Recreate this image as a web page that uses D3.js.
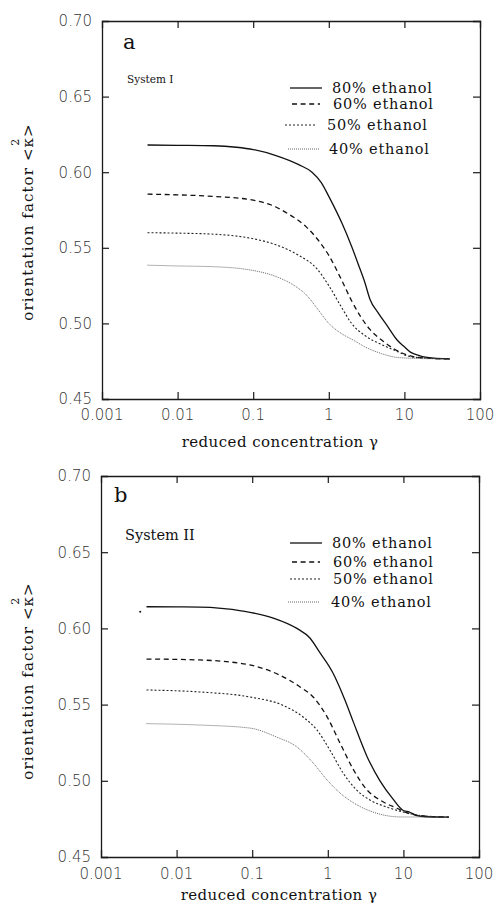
<!DOCTYPE html>
<html><head><meta charset="utf-8">
<script src="https://cdn.jsdelivr.net/npm/d3@7"></script>
<style>body{margin:0;background:#fff}</style>
</head><body>
<svg id="chart" width="494" height="905"></svg>
<script>
// ---------------- DATA ----------------
const xTicks = [0.001, 0.01, 0.1, 1, 10, 100];
const xTickLabels = ["0.001", "0.01", "0.1", "1", "10", "100"];
const yTicks = [0.45, 0.50, 0.55, 0.60, 0.65, 0.70];
const yTickLabels = ["0.45", "0.50", "0.55", "0.60", "0.65", "0.70"];
const seriesNames = ["80% ethanol", "60% ethanol", "50% ethanol", "40% ethanol"];
const panelLetters = ["a", "b"];
const systemNames = ["System I", "System II"];
const xTitle = "reduced concentration \u03b3";
const yTitle = "orientation factor <\u03ba>";

// System I : [reduced concentration, <kappa^2>]
const sysI_80 = [[0.004,0.618],[0.01,0.6178],[0.03,0.6175],[0.06,0.6165],[0.1,0.615],[0.2,0.611],[0.4,0.605],[0.6,0.600],[0.8,0.593],[1.0,0.584],[1.5,0.566],[2.0,0.551],[2.5,0.538],[3.0,0.527],[3.5,0.516],[4.5,0.507],[6,0.498],[8,0.489],[10,0.4845],[12,0.481],[15,0.479],[20,0.4775],[40,0.4765]];
const sysI_60 = [[0.004,0.5855],[0.01,0.585],[0.03,0.584],[0.1,0.5815],[0.2,0.577],[0.3,0.572],[0.5,0.564],[0.7,0.556],[1.0,0.545],[1.5,0.528],[2.0,0.515],[2.6,0.505],[3.5,0.496],[5,0.489],[8,0.482],[12,0.4785],[20,0.477],[40,0.4765]];
const sysI_50 = [[0.004,0.560],[0.01,0.5597],[0.03,0.559],[0.1,0.556],[0.2,0.552],[0.4,0.545],[0.7,0.536],[1.0,0.525],[1.5,0.510],[2.0,0.500],[3.0,0.492],[5,0.486],[8,0.4815],[12,0.478],[20,0.477],[40,0.4765]];
const sysI_40 = [[0.004,0.5385],[0.01,0.538],[0.03,0.5375],[0.1,0.535],[0.2,0.531],[0.35,0.525],[0.5,0.519],[0.7,0.510],[1.0,0.500],[1.5,0.493],[2.1,0.489],[3.0,0.4845],[5,0.480],[8,0.4775],[15,0.4768],[40,0.4765]];

// System II
const sysII_80 = [[0.004,0.6142],[0.01,0.6141],[0.02,0.614],[0.075,0.6114],[0.19,0.6068],[0.39,0.600],[0.58,0.5937],[0.79,0.5839],[1.17,0.5707],[1.7,0.5525],[2.2,0.538],[3.3,0.516],[4.9,0.500],[7.3,0.488],[10,0.4805],[12,0.4795],[15,0.4772],[20,0.4764],[40,0.4762]];
const sysII_80_point = [[0.0033,0.611]];
const sysII_60 = [[0.004,0.5799],[0.02,0.5793],[0.093,0.576],[0.23,0.5694],[0.43,0.5616],[0.64,0.555],[0.98,0.5419],[1.45,0.5248],[2.2,0.507],[3.3,0.494],[4.9,0.4874],[8.2,0.482],[12,0.4785],[20,0.4768],[40,0.4762]];
const sysII_50 = [[0.004,0.5596],[0.02,0.5583],[0.093,0.555],[0.25,0.5497],[0.47,0.5419],[0.72,0.5333],[1.07,0.520],[1.6,0.505],[2.4,0.494],[3.6,0.4874],[6.0,0.4828],[11,0.479],[20,0.4768],[40,0.4762]];
const sysII_40 = [[0.004,0.5375],[0.02,0.5366],[0.093,0.5346],[0.21,0.5287],[0.39,0.5222],[0.64,0.5117],[0.98,0.5005],[1.45,0.492],[2.2,0.4855],[3.9,0.4796],[9.1,0.4763],[40,0.4762]];

// ---------------- LAYOUT / STYLE ----------------
const styles = [
  {dash: null, width: 1.3, color: "#111"},
  {dash: "5,3.6", width: 1.3, color: "#111"},
  {dash: "2,2", width: 1.1, color: "#222"},
  {dash: "1,1", width: 0.9, color: "#555"}
];
const panels = [
  {left:102, right:480, top:21, bottom:399,
   series:[sysI_80, sysI_60, sysI_50, sysI_40], points: [],
   letter:{x:123, y:49, size:21}, sys:{x:127, y:83, size:10.5},
   legendY:[88, 104, 125, 149], legendText:[92.5, 109, 130, 154],
   legendLineX:[[290,322],[292,320],[285,317],[288,320]], legendTextX:[332,333,327,329],
   xLabelDy:21, xTitleY:447, xTitleX:280,
   yTitle:{cx:33, cy:222}},
  {left:101, right:479, top:476, bottom:857,
   series:[sysII_80, sysII_60, sysII_50, sysII_40], points: sysII_80_point,
   letter:{x:114, y:502, size:21}, sys:{x:125, y:540, size:14.5},
   legendY:[543, 562, 579, 602], legendText:[548, 567, 584, 607],
   legendLineX:[[290,322],[292,320],[290,320],[288,320]], legendTextX:[332,333,333,331],
   xLabelDy:22, xTitleY:900, xTitleX:279,
   yTitle:{cx:33, cy:681}}
];

const svg = d3.select("#chart");
const serif = "'DejaVu Serif', serif";
const sans = "'DejaVu Sans', sans-serif";
const frameColor = "#1a1a1a";

panels.forEach((p, pi) => {
  const x = d3.scaleLog().domain([0.001, 100]).range([p.left, p.right]);
  const y = d3.scaleLinear().domain([0.45, 0.70]).range([p.bottom, p.top]);
  const g = svg.append("g");
  const tl = 7;

  // axes (ticks inward on all four sides)
  const axB = d3.axisBottom(x).tickValues(xTicks).tickSize(-tl).tickFormat("");
  const axT = d3.axisTop(x).tickValues(xTicks.slice(1, -1)).tickSize(-tl).tickFormat("");
  const axL = d3.axisLeft(y).tickValues(yTicks.slice(1, -1)).tickSize(-tl).tickFormat("");
  const axR = d3.axisRight(y).tickValues(yTicks.slice(1, -1)).tickSize(-tl).tickFormat("");
  [[axB, `translate(0,${p.bottom})`], [axT, `translate(0,${p.top})`],
   [axL, `translate(${p.left},0)`], [axR, `translate(${p.right},0)`]].forEach(([ax, tr]) => {
    const a = g.append("g").attr("transform", tr).call(ax);
    a.select(".domain").attr("stroke", frameColor).attr("stroke-width", 1.3);
    a.selectAll(".tick line").attr("stroke", frameColor).attr("stroke-width", 1.2);
  });
  g.selectAll(".tick").filter(d => d === 0.001 || d === 100).select("line").remove();

  // tick labels
  g.selectAll(".ylab").data(yTicks).enter().append("text")
    .attr("x", p.left - 10).attr("y", d => y(d)).attr("dy", "0.36em")
    .attr("text-anchor", "end").attr("font-family", sans).attr("font-size", 15)
    .attr("font-weight", 300).attr("fill", "#333")
    .text((d, i) => yTickLabels[i]);
  g.selectAll(".xlab").data(xTicks).enter().append("text")
    .attr("x", d => x(d)).attr("y", p.bottom + p.xLabelDy)
    .attr("text-anchor", "middle").attr("font-family", sans).attr("font-size", 15)
    .attr("font-weight", 300).attr("fill", "#333")
    .text((d, i) => xTickLabels[i]);

  // x title
  g.append("text").attr("x", p.xTitleX).attr("y", p.xTitleY)
    .attr("text-anchor", "middle").attr("font-family", serif).attr("font-size", 15)
    .attr("letter-spacing", 0.45).attr("fill", "#111").text(xTitle);

  // y title (rotated) with superscript 2 placed over kappa
  const yt = g.append("g").attr("transform", `translate(${p.yTitle.cx},${p.yTitle.cy}) rotate(-90)`);
  const t = yt.append("text").attr("x", 0).attr("y", 0).attr("text-anchor", "middle")
    .attr("font-family", serif).attr("font-size", 15).attr("letter-spacing", 1.1)
    .attr("fill", "#111").text(yTitle);
  const node = t.node();
  const L = node.getComputedTextLength();
  const ki = yTitle.indexOf("\u03ba");
  const pre = node.getSubStringLength(0, ki);
  const kw = node.getSubStringLength(ki, 1);
  yt.append("text").attr("x", -L / 2 + pre + kw / 2).attr("y", -14.5)
    .attr("text-anchor", "middle").attr("font-family", serif).attr("font-size", 11)
    .attr("fill", "#111").text("2");

  // panel letter and system label
  g.append("text").attr("x", p.letter.x).attr("y", p.letter.y)
    .attr("font-family", serif).attr("font-size", p.letter.size).attr("fill", "#111")
    .text(panelLetters[pi]);
  g.append("text").attr("x", p.sys.x).attr("y", p.sys.y)
    .attr("font-family", serif).attr("font-size", p.sys.size).attr("fill", "#111")
    .text(systemNames[pi]);

  // curves
  const line = d3.line().x(d => x(d[0])).y(d => y(d[1])).curve(d3.curveMonotoneX);
  p.series.forEach((s, si) => {
    const st = styles[si];
    g.append("path").datum(s).attr("d", line).attr("fill", "none")
      .attr("stroke", st.color).attr("stroke-width", st.width)
      .attr("stroke-dasharray", st.dash);
  });
  g.selectAll(".pt").data(p.points).enter().append("circle")
    .attr("cx", d => x(d[0])).attr("cy", d => y(d[1])).attr("r", 1).attr("fill", "#111");

  // legend
  seriesNames.forEach((name, si) => {
    const st = styles[si];
    const lx = p.legendLineX[si];
    g.append("line").attr("x1", lx[0]).attr("x2", lx[1])
      .attr("y1", p.legendY[si]).attr("y2", p.legendY[si])
      .attr("stroke", st.color).attr("stroke-width", st.width)
      .attr("stroke-dasharray", st.dash);
    g.append("text").attr("x", p.legendTextX[si]).attr("y", p.legendText[si])
      .attr("font-family", serif).attr("font-size", 14.5).attr("letter-spacing", 0.8)
      .attr("fill", "#111").text(name);
  });
});
</script>
</body></html>
